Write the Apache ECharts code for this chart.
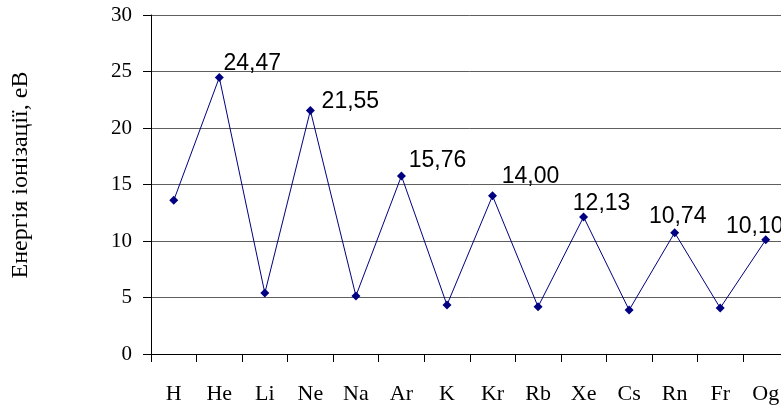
<!DOCTYPE html>
<html>
<head>
<meta charset="utf-8">
<script src="https://cdn.jsdelivr.net/npm/echarts@6/dist/echarts.min.js"></script>
<style>
  html, body { margin: 0; padding: 0; background: #fff; overflow: hidden; width: 781px; height: 406px; }
  /* the plot runs past the right edge of the page, so the canvas is wider than the view */
  #chart { width: 800px; height: 406px; }
</style>
</head>
<body>
<div id="chart"></div>
<script>
// Elements along the x axis
const elements = ['H', 'He', 'Li', 'Ne', 'Na', 'Ar', 'K', 'Kr', 'Rb', 'Xe', 'Cs', 'Rn', 'Fr', 'Og'];
// First ionization energy, eV
const ionizationEnergy = [13.6, 24.47, 5.39, 21.55, 5.14, 15.76, 4.34, 14.00, 4.18, 12.13, 3.89, 10.74, 4.07, 10.10];
// Which points carry a value label (the noble gases)
const showLabel = [false, true, false, true, false, true, false, true, false, true, false, true, false, true];
// Tick values of the energy axis
const yTicks = [0, 5, 10, 15, 20, 25, 30];

// Label placement relative to each point (layout only)
const labelOffsets = [
  [0, 0], [33, 2], [0, 0], [40, 7], [0, 0], [36, 1], [0, 0],
  [38, -3], [0, 0], [18, 3], [0, 0], [3, 0], [0, 0], [-11, 3]
];

const serif = '"Liberation Serif", "Times New Roman", serif';
const sans = '"Liberation Sans", Arial, sans-serif';

const seriesData = ionizationEnergy.map((v, i) => ({
  value: v,
  label: {
    show: showLabel[i],
    position: 'top',
    distance: 0,
    offset: labelOffsets[i],
    formatter: (p) => p.value.toFixed(2).replace('.', ',')
  }
}));

const chart = echarts.init(document.getElementById('chart'), null, { renderer: 'canvas' });
chart.setOption({
  animation: false,
  backgroundColor: '#ffffff',
  grid: { left: 151, top: 15, width: 637.5, height: 339, containLabel: false },
  xAxis: {
    type: 'category',
    data: elements,
    boundaryGap: true,
    axisLine: { show: true, lineStyle: { color: '#000', width: 1 } },
    axisTick: { show: true, inside: false, length: 8, alignWithLabel: false, lineStyle: { color: '#000' } },
    axisLabel: { margin: 29, color: '#000', fontFamily: serif, fontSize: 22, interval: 0 },
    splitLine: { show: false }
  },
  yAxis: {
    type: 'value',
    min: yTicks[0],
    max: yTicks[yTicks.length - 1],
    interval: yTicks[1] - yTicks[0],
    axisLine: { show: true, lineStyle: { color: '#000', width: 1 } },
    axisTick: { show: true, inside: false, length: 8, lineStyle: { color: '#000' } },
    axisLabel: { margin: 19, color: '#000', fontFamily: serif, fontSize: 21 },
    splitLine: { show: true, lineStyle: { color: '#5e5e5e', width: 1 } }
  },
  graphic: [{
    type: 'text',
    x: 21,
    y: 175,
    rotation: Math.PI / 2,
    style: {
      text: 'Енергія іонізації, еВ',
      font: '24px ' + serif,
      fill: '#000',
      align: 'center',
      verticalAlign: 'middle'
    }
  }],
  series: [{
    type: 'line',
    data: seriesData,
    symbol: 'diamond',
    symbolSize: 9,
    lineStyle: { color: '#000080', width: 1 },
    itemStyle: { color: '#000080' },
    label: { color: '#000', fontFamily: sans, fontSize: 23 },
    clip: false
  }]
});
</script>
</body>
</html>
